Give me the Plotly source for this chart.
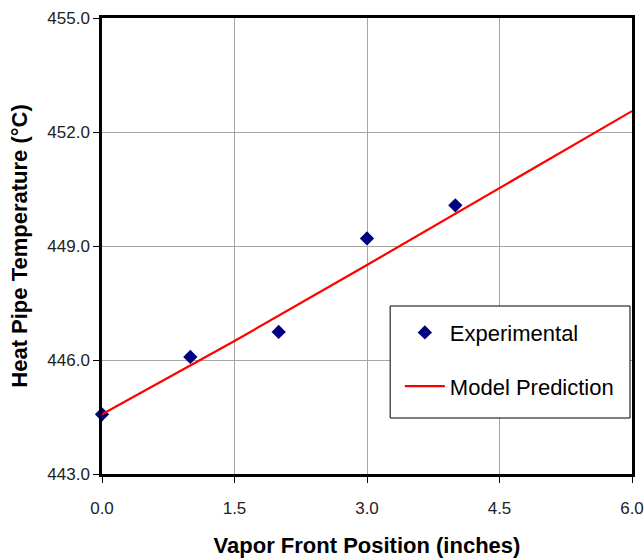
import plotly.graph_objects as go

exp_x = [0, 1, 2, 3, 4]
exp_y = [444.57, 446.08, 446.74, 449.2, 450.07]

model_x = [0, 1.5, 3, 4.5, 6]
model_y = [444.57, 446.5, 448.5, 450.52, 452.55]

x_ticks = [0, 1.5, 3.0, 4.5, 6.0]
y_ticks = [443, 446, 449, 452, 455]

FONT = "Liberation Sans, Arial, sans-serif"

fig = go.Figure()
fig.add_trace(go.Scatter(
    x=exp_x, y=exp_y, mode="markers", name="Experimental",
    marker=dict(symbol="diamond", size=11, color="#000080"),
    legendgroup="a", cliponaxis=False,
))
fig.add_trace(go.Scatter(
    x=model_x, y=model_y, mode="lines", name="Model Prediction",
    line=dict(color="#ff0000", width=2.2),
    legendgroup="b", cliponaxis=False,
))

# legend frame
fig.add_shape(type="rect", xref="paper", yref="paper",
              x0=0.5437, x1=0.9962, y0=0.1228, y1=0.3684,
              line=dict(color="black", width=1), fillcolor="white",
              layer="above")

fig.update_layout(
    width=644, height=559,
    margin=dict(l=102, r=12, t=18, b=85),
    paper_bgcolor="white", plot_bgcolor="white",
    font=dict(family=FONT, color="#111"),
    showlegend=True,
    legend=dict(
        x=0.562, y=0.356, xanchor="left", yanchor="top",
        bgcolor="rgba(0,0,0,0)", borderwidth=0,
        font=dict(size=22, family=FONT, color="black"),
        tracegroupgap=22, traceorder="grouped",
        itemwidth=40,
    ),
    xaxis=dict(
        range=[0, 6], tickvals=x_ticks,
        ticktext=[f"{v:.1f}" for v in x_ticks],
        showgrid=True, gridcolor="#a6a6a6", gridwidth=1,
        showline=True, linecolor="black", linewidth=2.5, mirror=True,
        ticks="outside", ticklen=6, tickcolor="black", tickwidth=1,
        tickfont=dict(size=17, family=FONT, color="#222"),
        ticklabelstandoff=11, automargin=False,
        zeroline=False,
        title=dict(text="<b>Vapor Front Position (inches)</b>",
                   font=dict(size=22, family=FONT, color="black"), standoff=21),
    ),
    yaxis=dict(
        range=[443, 455], tickvals=y_ticks,
        ticktext=[f"{v:.1f}" for v in y_ticks],
        showgrid=True, gridcolor="#a6a6a6", gridwidth=1,
        showline=True, linecolor="black", linewidth=2.5, mirror=True,
        ticks="outside", ticklen=6, tickcolor="black", tickwidth=1,
        tickfont=dict(size=17, family=FONT, color="#222"),
        zeroline=False, automargin=False,
        title=dict(text="<b>Heat Pipe Temperature (°C)</b>",
                   font=dict(size=22, family=FONT, color="black"), standoff=14),
    ),
)

fig.write_html("out.html")
